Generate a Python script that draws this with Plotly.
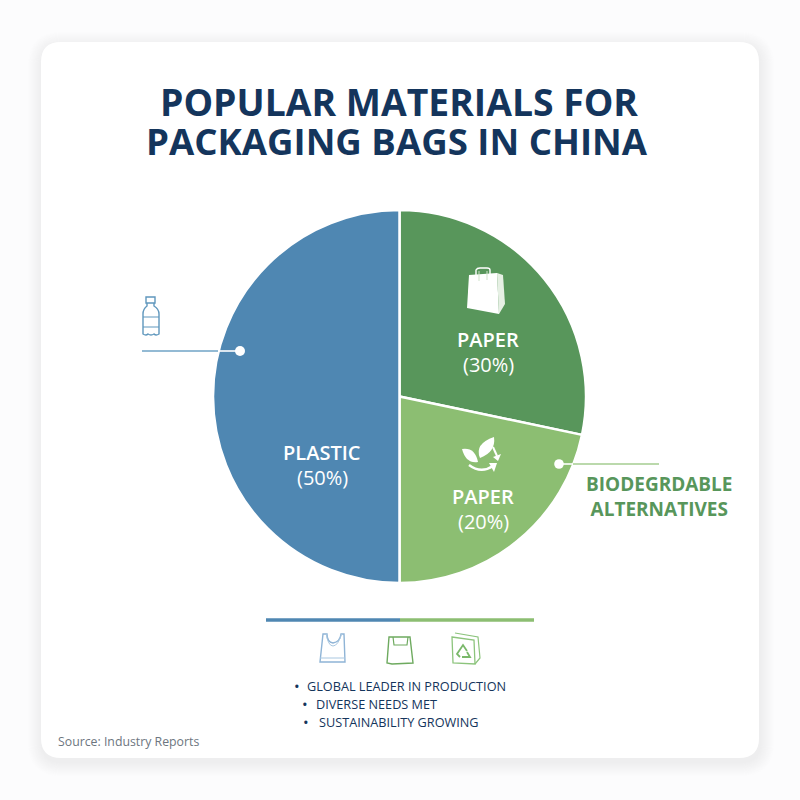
import plotly.graph_objects as go

materials = ["Paper", "Biodegradable paper", "Plastic"]
# Slice sizes as drawn in the picture (the paper/biodegradable boundary sits near 102 degrees)
drawn_shares = [28.3, 21.7, 50]
slice_colors = ["#58965b", "#8cbe72", "#4f87b2"]
title_lines = ["POPULAR MATERIALS FOR", "PACKAGING BAGS IN CHINA"]
slice_labels = [("PLASTIC", "(50%)"), ("PAPER", "(30%)"), ("PAPER", "(20%)")]
callout_lines = ["BIODEGRDABLE", "ALTERNATIVES"]
bullets = ["GLOBAL LEADER IN PRODUCTION", "DIVERSE NEEDS MET", "SUSTAINABILITY GROWING"]
source = "Source: Industry Reports"

NAVY = "#14355c"
BLUE = "#4f87b2"
GREEN = "#58965b"
LGREEN = "#8cbe72"
FONT = "Open Sans"


def rrect(x0, y0, x1, y1, r):
    return (f"M{x0+r} {y0} L{x1-r} {y0} Q{x1} {y0} {x1} {y0+r} L{x1} {y1-r} Q{x1} {y1} {x1-r} {y1} "
            f"L{x0+r} {y1} Q{x0} {y1} {x0} {y1-r} L{x0} {y0+r} Q{x0} {y0} {x0+r} {y0} Z")


shapes = []


def path(d, fill=None, line=None, w=1.5, layer="above", opacity=1):
    s = dict(type="path", path=d, xref="x", yref="y", layer=layer, opacity=opacity,
             line=dict(color=line or "rgba(0,0,0,0)", width=w if line else 0))
    if fill:
        s["fillcolor"] = fill
    shapes.append(s)


def seg(x0, y0, x1, y1, color, w):
    shapes.append(dict(type="line", x0=x0, y0=y0, x1=x1, y1=y1, xref="x", yref="y",
                       layer="above", line=dict(color=color, width=w)))


def dot(cx, cy, r, color):
    shapes.append(dict(type="circle", x0=cx-r, x1=cx+r, y0=cy-r, y1=cy+r, xref="x", yref="y",
                       layer="above", fillcolor=color, line=dict(width=0)))


# Card shadow, then card
for i in range(14, 0, -1):
    path(rrect(41-i+1, 42-i+4, 759+i+1, 758+i+4, 20+i), fill="#a7adb4", layer="below", opacity=0.014)
path(rrect(41, 42, 759, 758, 20), fill="#ffffff", layer="below")

# Leader lines and dots
seg(142, 351, 218, 351, "#6fa3c6", 1.6)
seg(218, 351, 240, 351, "#ffffff", 1.6)
dot(240, 351, 5, "#ffffff")
seg(559, 464, 573, 464, "#ffffff", 1.6)
seg(573, 464, 659, 464, "#a5cd90", 1.6)
dot(559, 464, 4.8, "#ffffff")

# Split rule
seg(266, 620, 400, 620, BLUE, 3.5)
seg(400, 620, 534, 620, LGREEN, 3.5)

# Bottle icon
path("M146 297 L155 297 L155 303 L146 303 Z", line="#5f97bd", w=1.4)
path("M147 303 L147 306 Q143 309 143 314 L143 334 Q146 336 148 334 Q151 336 154 334 Q156 336 159 334 "
     "L159 314 Q159 309 154 306 L154 303", line="#5f97bd", w=1.4)
path("M143 317 L159 317 M143 327 L159 327", line="#5f97bd", w=1)

# Paper bag icon (white)
path("M469 275 L497 273 L499 314 L467 308 Z", fill="#ffffff")
path("M497 273 L503 275 L505 304 L499 314 Z", fill="#e6f0e4")
path("M476 281 L476 270 Q477 268 480 268 L487 268 Q490 268 490 270 L490 281", line="#ffffff", w=1.4)
path("M479 281 L479 271 M487 280 L487 271", line="#cfe3cb", w=1)

# Leaf and arrows icon (white)
path("M462 449 Q475 447 478 462 Q466 464 462 449 Z", fill="#ffffff")
path("M494 437 Q496 452 480 458 Q474 444 494 437 Z", fill="#ffffff")
path("M469 465 Q481 474 493 466", line="#ffffff", w=2.4)
path("M489 463 L497 463 L494 472 Z", fill="#ffffff")
path("M493 447 L497 456", line="#ffffff", w=2)
path("M493 457 L501 454 L498 461 Z", fill="#ffffff")

# Plastic carrier bag outline
path("M320 662 L323 634 L327 634 Q327 642 333 643 Q340 642 341 634 L344 634 L345 662 Z",
     line="#8fb4d6", w=1.4)
path("M320 658 L345 658 M326 633 Q328 646 333 646 Q338 646 342 633", line="#a9c7e0", w=1)

# Green paper bag outline
path("M387 663 L389 637 L410 637 L413 663 L392 664 Z", line="#6eaa5f", w=1.4)
path("M393 637 L394 645 L407 645 L408 637", line="#6eaa5f", w=1.2)

# Recycling bag outline
path("M452 637 L474 640 L475 664 L453 663 Z", line="#8cc47c", w=1.3)
path("M455 633 L478 637 L480 658 L475 664", line="#8cc47c", w=1.2)
path("M459 651 L463 645 L467 651 M467 652 L470 657 L462 657 M460 657 L457 654 L459 651",
     line="#7ab86a", w=1.8)

ann = []


def label(x, y, text, size, color, weight=400, anchor="center"):
    ann.append(dict(x=x, y=y, xref="x", yref="y", text=text, showarrow=False, xanchor=anchor,
                    yanchor="middle", font=dict(family=FONT, size=size, color=color, weight=weight)))


label(398.5, 101, title_lines[0], 37.3, NAVY, 700)
label(397, 141, title_lines[1], 36.6, NAVY, 700)
label(322, 452, slice_labels[0][0], 20, "#ffffff", 600)
label(322, 477, slice_labels[0][1], 20, "#ffffff", 500)
label(488, 339.5, slice_labels[1][0], 20, "#ffffff", 600)
label(488, 364.5, slice_labels[1][1], 20, "#ffffff", 500)
label(483, 496, slice_labels[2][0], 20, "#ffffff", 600)
label(483, 521, slice_labels[2][1], 20, "#ffffff", 500)
label(659, 496.5, "<br>".join(callout_lines), 19, GREEN, 700)
label(297, 686, "•", 15, NAVY)
label(305, 686, bullets[0], 12.7, NAVY, 500, "left")
label(305, 704, "•", 15, NAVY)
label(314, 704, bullets[1], 12.7, NAVY, 500, "left")
label(306, 722, "•", 15, NAVY)
label(317, 722, bullets[2], 12.7, NAVY, 500, "left")
label(56, 741, source, 12.3, "#6d7680", 400, "left")

fig = go.Figure()
fig.add_trace(go.Scatter(x=[0, 800], y=[0, 800], mode="markers", marker=dict(opacity=0),
                         hoverinfo="skip", showlegend=False))
fig.add_trace(go.Pie(labels=materials, values=drawn_shares, sort=False, direction="clockwise",
                     rotation=0, textinfo="none", hoverinfo="label",
                     marker=dict(colors=slice_colors, line=dict(color="#ffffff", width=2.5)),
                     domain=dict(x=[213/800, 586/800], y=[1-583/800, 1-210/800]),
                     showlegend=False))
fig.update_layout(
    width=800, height=800, margin=dict(l=0, r=0, t=0, b=0), autosize=False,
    paper_bgcolor="#fcfcfd", plot_bgcolor="rgba(0,0,0,0)", showlegend=False,
    xaxis=dict(range=[0, 800], visible=False, fixedrange=True),
    yaxis=dict(range=[800, 0], visible=False, fixedrange=True),
    shapes=shapes, annotations=ann,
)
fig.write_html("out.html", config=dict(displayModeBar=False),
               post_script="document.body.style.margin='0';document.documentElement.style.overflow='hidden';")
